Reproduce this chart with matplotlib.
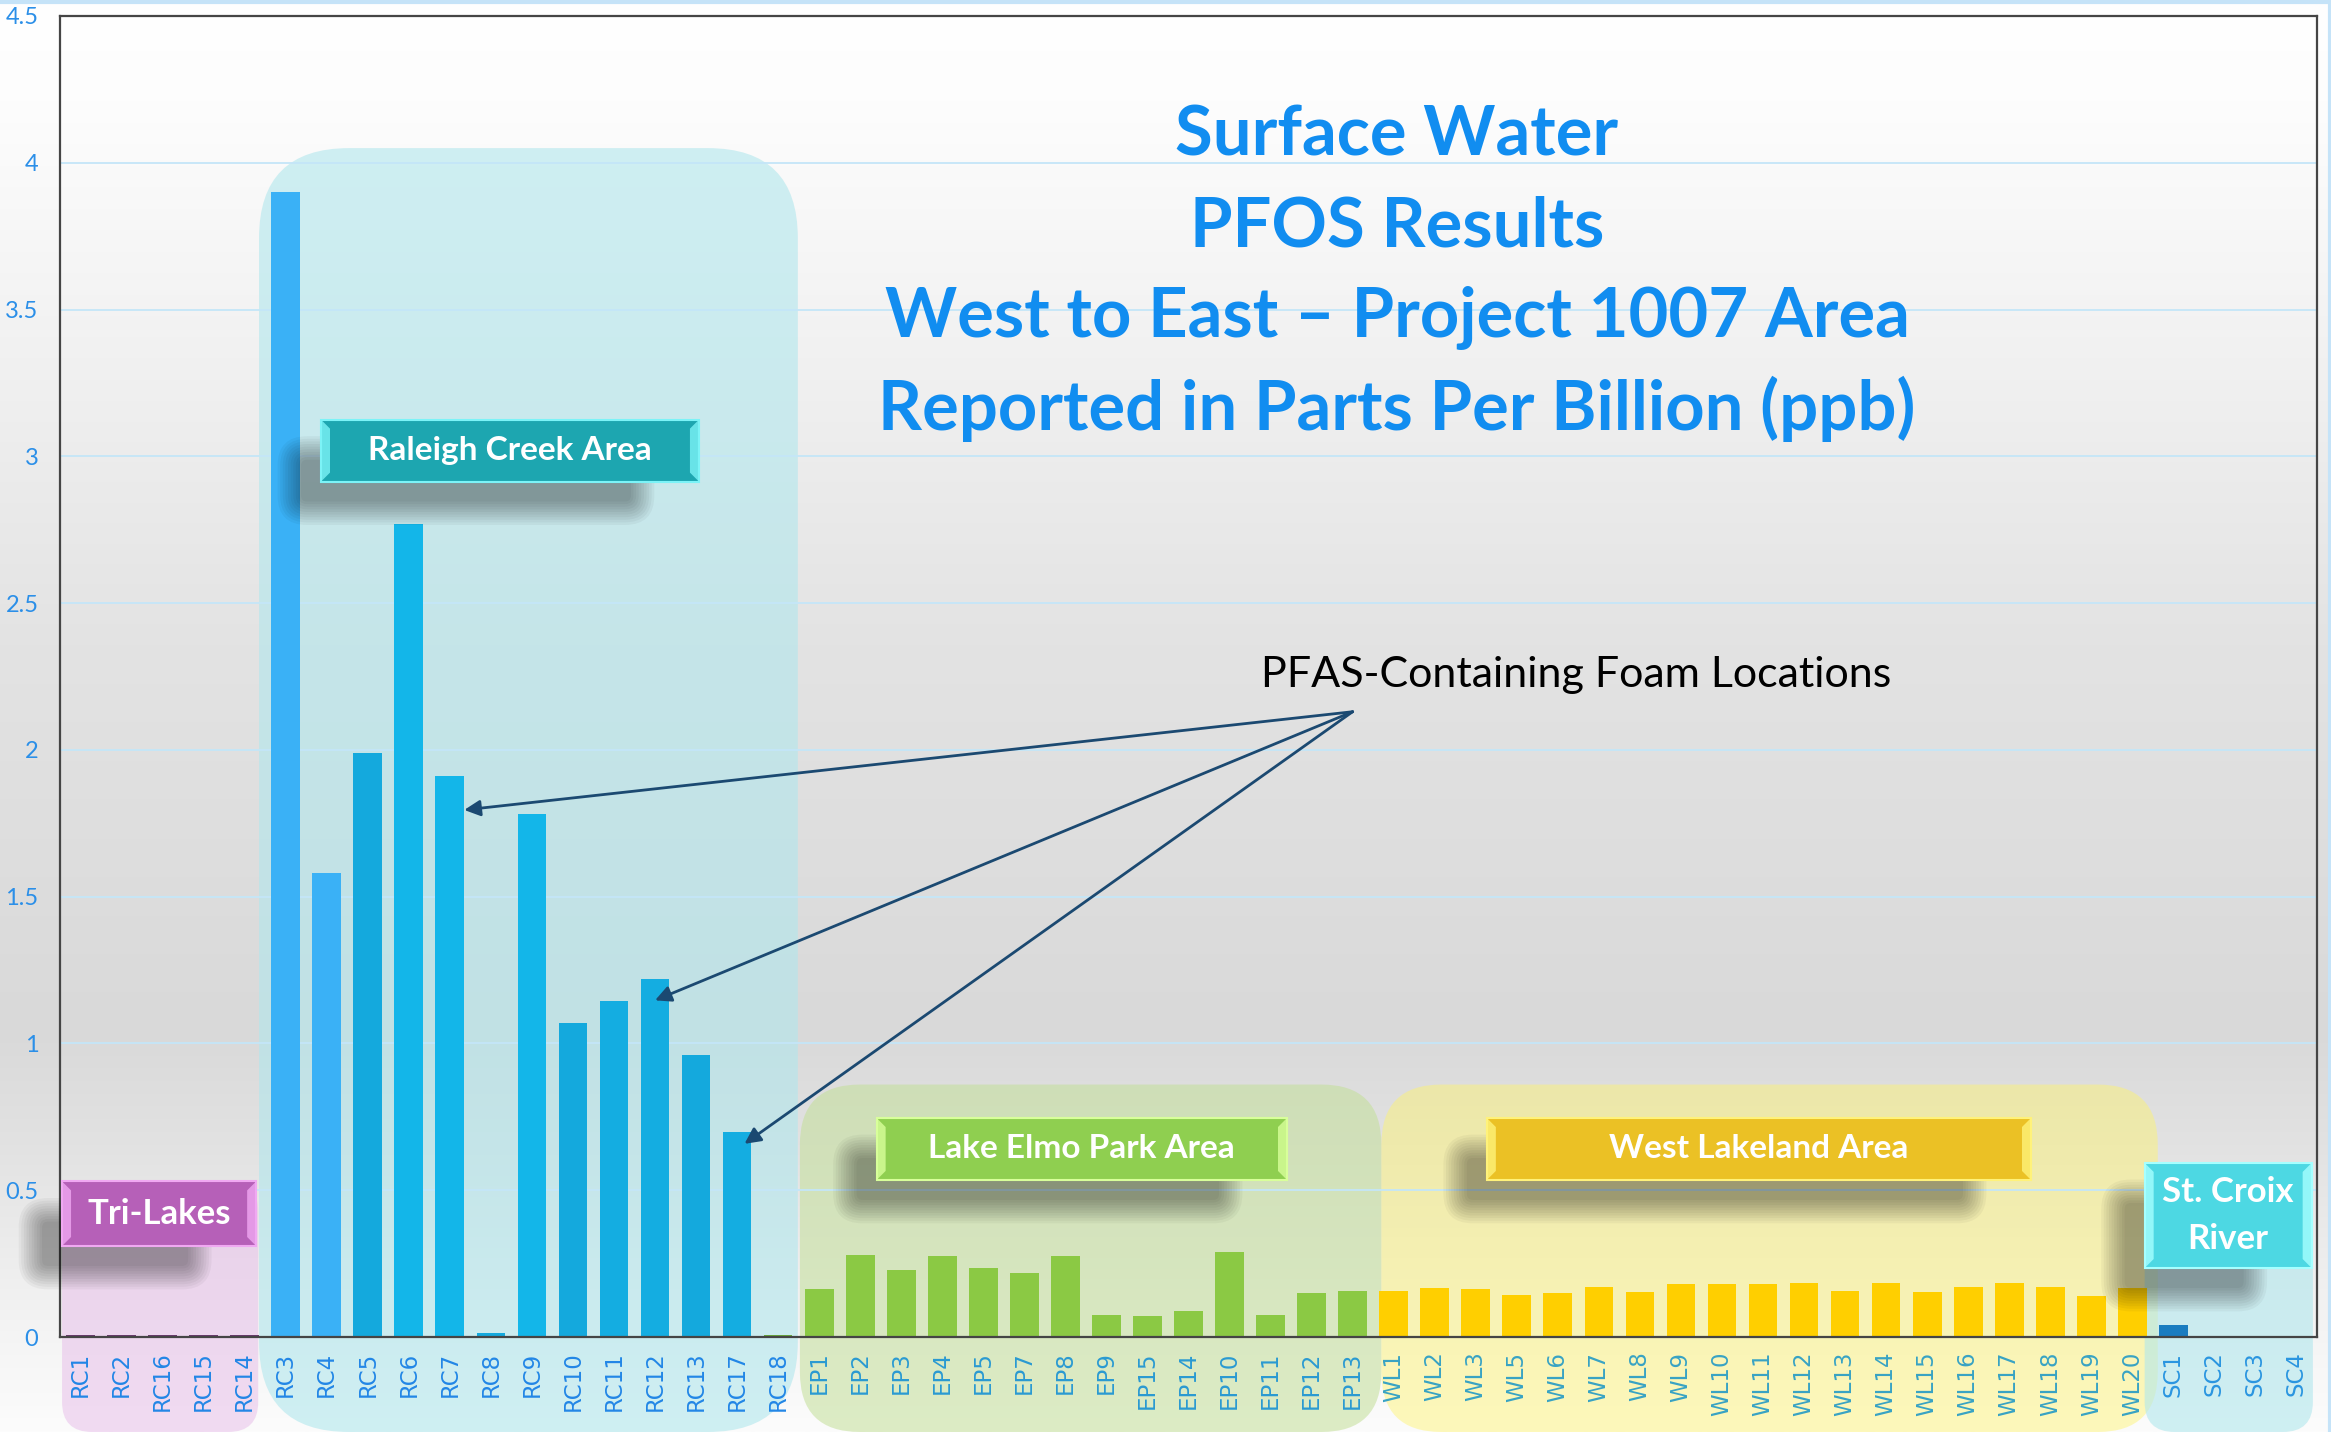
import numpy as np
import matplotlib.pyplot as plt
from matplotlib.patches import FancyBboxPatch, Rectangle, Polygon
from matplotlib.lines import Line2D

# sample sites, west to east, grouped by area
tri_sites = ['RC1', 'RC2', 'RC16', 'RC15', 'RC14']
tri_vals = [0.006, 0.006, 0.006, 0.006, 0.006]

rc_sites = ['RC3', 'RC4', 'RC5', 'RC6', 'RC7', 'RC8', 'RC9', 'RC10', 'RC11',
            'RC12', 'RC13', 'RC17', 'RC18']
rc_vals = [3.90, 1.58, 1.99, 2.77, 1.91, 0.015, 1.78, 1.07, 1.145, 1.22, 0.96,
           0.70, 0.006]

ep_sites = ['EP1', 'EP2', 'EP3', 'EP4', 'EP5', 'EP7', 'EP8', 'EP9', 'EP15',
            'EP14', 'EP10', 'EP11', 'EP12', 'EP13']
ep_vals = [0.162, 0.28, 0.227, 0.275, 0.236, 0.218, 0.275, 0.075, 0.07, 0.088,
           0.289, 0.075, 0.149, 0.158]

wl_sites = ['WL1', 'WL2', 'WL3', 'WL5', 'WL6', 'WL7', 'WL8', 'WL9', 'WL10',
            'WL11', 'WL12', 'WL13', 'WL14', 'WL15', 'WL16', 'WL17', 'WL18',
            'WL19', 'WL20']
wl_vals = [0.158, 0.167, 0.162, 0.144, 0.149, 0.17, 0.153, 0.18, 0.18, 0.18,
           0.184, 0.158, 0.184, 0.153, 0.17, 0.184, 0.17, 0.14, 0.167]

sc_sites = ['SC1', 'SC2', 'SC3', 'SC4']
sc_vals = [0.041, 0.0, 0.0, 0.0]

foam_sites = ['RC7', 'RC12', 'RC17']
ytick_labels = ['0', '0.5', '1', '1.5', '2', '2.5', '3', '3.5', '4', '4.5']
title_lines = ['Surface Water', 'PFOS Results',
               'West to East \u2013 Project 1007 Area',
               'Reported in Parts Per Billion (ppb)']

sites = tri_sites + rc_sites + ep_sites + wl_sites + sc_sites
values = tri_vals + rc_vals + ep_vals + wl_vals + sc_vals

# colours
rc_colors = ['#3AB1F6', '#3AB1F6', '#14A9DD', '#13B6E9', '#13B6E9', '#14A9DD',
             '#13B6E9', '#14A9DD', '#14ADE1', '#14ADE1', '#14A9DD', '#14ADE1',
             '#6AAA3A']
bar_colors = (['#6B3A6E'] * len(tri_sites) + rc_colors
              + ['#8BC944'] * len(ep_sites) + ['#FFCF00'] * len(wl_sites)
              + ['#1A7CC0'] * len(sc_sites))
label_colors = (['#2286E6'] * (len(tri_sites) + len(rc_sites))
                + ['#2A9AD2'] * len(ep_sites) + ['#38A3C4'] * len(wl_sites)
                + ['#2A95E0'] * len(sc_sites))

FONT = ['Lato', 'DejaVu Sans']
W, H = 2331, 1432
fig = plt.figure(figsize=(W / 100, H / 100), dpi=100)

# gradient backdrop over the whole slide
bg = fig.add_axes([0, 0, 1, 1], zorder=-5)
stops_y = [0, 0.07, 0.28, 0.45, 0.64, 0.72, 0.80, 0.93, 1.0]
stops_v = [255, 253, 239, 227, 220, 217, 226, 244, 252]
grad = np.interp(np.linspace(0, 1, 500), stops_y, stops_v) / 255
img = np.dstack([np.repeat(grad[:, None], 2, axis=1)] * 3)
bg.imshow(img, aspect='auto', extent=[0, 1, 0, 1], origin='upper')
bg.set_axis_off()

ax = fig.add_axes([60 / W, (H - 1337) / H, (2317 - 60) / W, (1337 - 16) / H])
ax.set_facecolor('none')
x = np.arange(len(sites))
ax.set_xlim(-0.5, len(sites) - 0.5)
ax.set_ylim(0, 4.5)

# pixel scale of data units
p0 = ax.transData.transform((0, 0))
px_x = ax.transData.transform((1, 0))[0] - p0[0]
px_y = ax.transData.transform((0, 1))[1] - p0[1]
m_asp = px_x / px_y
y_floor = ax.transData.inverted().transform((0, 0))[1]

ax.bar(x, values, width=0.7, color=bar_colors, zorder=3)

ax.set_yticks(np.arange(0, 4.51, 0.5))
ax.set_yticklabels(ytick_labels)
ax.set_xticks(x)
ax.set_xticklabels(sites, rotation=90, va='top', ha='center')
ax.tick_params(axis='y', length=0, pad=15.5, labelsize=17, labelcolor='#2B8FE8')
ax.tick_params(axis='x', length=0, pad=10.5, labelsize=16.5)
for lab, col in zip(ax.get_xticklabels(), label_colors):
    lab.set_color(col)
for lab in ax.get_yticklabels():
    lab.set_family(FONT)
ax.grid(axis='y', color='#C4E6F8', lw=1.3)
ax.set_axisbelow(False)
for s in ax.spines.values():
    s.set_color('#454545')
    s.set_linewidth(1.6)
    s.set_zorder(4)


# translucent area panels behind the bars
def panel(x0, x1, top, r_px, color, alpha):
    p = FancyBboxPatch((x0, y_floor), x1 - x0, top - y_floor,
                       boxstyle=f'round,pad=0,rounding_size={r_px / px_x}',
                       mutation_aspect=m_asp, fc=color, alpha=alpha, lw=0,
                       zorder=1.2, clip_on=False)
    ax.add_patch(p)


panel(-0.45, 4.33, 0.53, 30, '#E8C0EA', 0.55)
panel(4.35, 17.48, 4.05, 90, '#B1E7ED', 0.6)
panel(17.53, 31.7, 0.86, 60, '#C3DF98', 0.55)
panel(31.7, 50.62, 0.86, 60, '#FFF46B', 0.45)
panel(50.3, 54.4, 0.59, 30, '#B1E7ED', 0.6)


# bevelled label boxes with soft shadow
def label_box(x0, x1, top, bot, text, color, light, fs=24, ls=1.25):
    dx = 32 / px_x
    dy = 30 / px_y
    ix = 12 / px_x
    iy = 10 / px_y
    sx0, sx1, st, sb = x0 - dx + ix, x1 - dx - 3 * ix, top - dy - iy, bot - dy + iy
    for i in range(10):
        pad = 2.6 * i
        sh = FancyBboxPatch((sx0 - pad / px_x, sb - pad / px_y),
                            (sx1 - sx0) + 2 * pad / px_x,
                            (st - sb) + 2 * pad / px_y,
                            boxstyle=f'round,pad=0,rounding_size={(pad + 6) / px_x}',
                            mutation_aspect=m_asp, fc='black', alpha=0.04,
                            lw=0, zorder=4.2, clip_on=False)
        ax.add_patch(sh)
    ax.add_patch(Rectangle((x0, bot), x1 - x0, top - bot, fc=color,
                           ec=light, lw=1.5, zorder=5, clip_on=False))
    b = 9 / px_x
    c = 9 / px_y
    ax.add_patch(Polygon([(x0, top), (x0 + b, top - c), (x0 + b, bot + c), (x0, bot)],
                         closed=True, fc=light, alpha=0.8, lw=0, zorder=5,
                         clip_on=False))
    ax.add_patch(Polygon([(x1, top), (x1 - b, top - c), (x1 - b, bot + c), (x1, bot)],
                         closed=True, fc=light, alpha=0.8, lw=0, zorder=5,
                         clip_on=False))
    ax.text((x0 + x1) / 2, (top + bot) / 2, text, ha='center', va='center',
            color='white', fontsize=fs, fontweight='bold', family=FONT,
            linespacing=ls, zorder=6, clip_on=False)


label_box(-0.45, 4.28, 0.53, 0.31, 'Tri-Lakes', '#B660B8', '#F0A8F2', fs=25)
label_box(5.86, 15.07, 3.125, 2.914, 'Raleigh Creek Area', '#1DA6B0', '#7CF3F7')
label_box(19.4, 29.4, 0.746, 0.535, 'Lake Elmo Park Area', '#8FCF50', '#D8FF9A')
label_box(34.27, 47.53, 0.746, 0.535, 'West Lakeland Area', '#EBC125', '#FFF27A')
label_box(50.3, 54.37, 0.593, 0.235, 'St. Croix\nRiver', '#4DD8E3', '#A6FFFF',
          fs=25, ls=1.55)

# foam arrows
origin = (31.0, 2.13)
foam_dx = [0.35, 0.0, 0.18]
for site, ddx in zip(foam_sites, foam_dx):
    i = sites.index(site)
    ax.annotate('', xy=(i + ddx, values[i] * 0.94), xytext=origin,
                arrowprops=dict(arrowstyle='-|>', color='#1B4971', lw=2,
                                mutation_scale=24, shrinkA=0, shrinkB=0),
                zorder=5)
ax.text(36.45, 2.255, 'PFAS-Containing Foam Locations', ha='center',
        va='center', fontsize=31, family=FONT, color='black', zorder=6)

# title block
for k, line in enumerate(title_lines):
    fig.text(1397 / W, 1 - (136 + 91 * k) / H, line, ha='center', va='center',
             fontsize=49.5, fontweight='bold', family=FONT, color='#118DF0')

# thin slide border
fig.add_artist(Line2D([0, 1], [1 - 1.5 / H] * 2, transform=fig.transFigure,
                      color='#C5E3F8', lw=3))
fig.add_artist(Line2D([1 - 1.5 / W] * 2, [0, 1], transform=fig.transFigure,
                      color='#C5E3F8', lw=3))

fig.savefig('out.png', dpi=100)
